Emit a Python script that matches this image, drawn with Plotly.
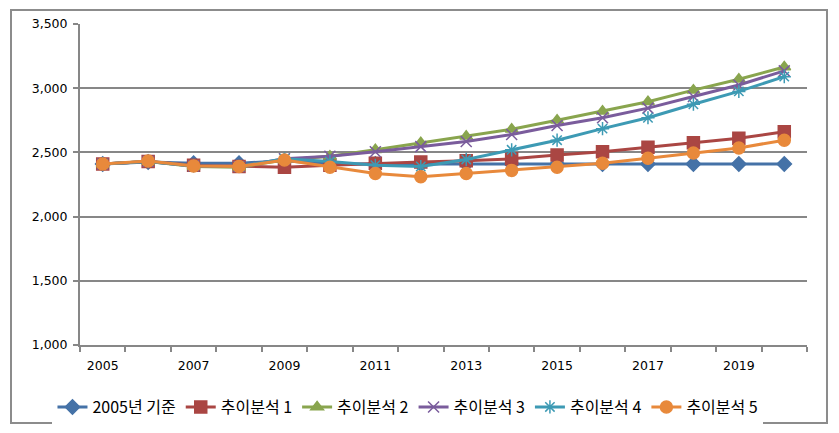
import plotly.graph_objects as go

years = list(range(2005, 2021))
series_names = ["2005년 기준", "추이분석 1", "추이분석 2", "추이분석 3", "추이분석 4", "추이분석 5"]
base_2005 = [2410, 2425, 2415, 2415, 2435, 2410, 2410, 2410, 2410, 2410, 2410, 2410, 2410, 2410, 2410, 2410]
trend_1 = [2410, 2430, 2400, 2390, 2385, 2400, 2415, 2425, 2435, 2450, 2480, 2505, 2540, 2575, 2610, 2660]
trend_2 = [2410, 2430, 2390, 2385, 2440, 2470, 2520, 2575, 2625, 2680, 2750, 2820, 2895, 2985, 3070, 3165]
trend_3 = [2410, 2430, 2395, 2390, 2450, 2470, 2505, 2545, 2585, 2640, 2710, 2770, 2845, 2935, 3025, 3135]
trend_4 = [2410, 2430, 2395, 2390, 2450, 2430, 2400, 2390, 2445, 2520, 2595, 2685, 2770, 2875, 2975, 3090]
trend_5 = [2410, 2433, 2395, 2390, 2440, 2385, 2335, 2310, 2335, 2360, 2385, 2415, 2455, 2495, 2535, 2595]
y_ticks = [1000, 1500, 2000, 2500, 3000, 3500]
x_label_years = [2005, 2007, 2009, 2011, 2013, 2015, 2017, 2019]

all_series = [base_2005, trend_1, trend_2, trend_3, trend_4, trend_5]
colors = ["#4572A7", "#AA4643", "#89A54E", "#7A5C9C", "#3D9AB4", "#E8893B"]
symbols = ["diamond", "square", "triangle-up", "x-thin-open", "asterisk-open", "circle"]
sizes = [11, 12, 11, 11, 11, 12]

fig = go.Figure()
for name, vals, c, s, sz in zip(series_names, all_series, colors, symbols, sizes):
    fig.add_trace(go.Scatter(
        x=years, y=vals, name=name, mode="lines+markers",
        line=dict(color=c, width=3),
        marker=dict(symbol=s, size=sz, color=c, line=dict(color=c, width=1.5)),
    ))

grid_c = "#878787"
fig.update_layout(
    width=823, height=417,
    margin=dict(l=72, r=24, t=16, b=80, autoexpand=False),
    paper_bgcolor="white", plot_bgcolor="white",
    font=dict(family="DejaVu Sans", size=12.5, color="black"),
    showlegend=True,
    legend=dict(orientation="h", xref="container", yref="container",
                x=0.486, xanchor="center", y=0.043, yanchor="middle",
                font=dict(family="Noto Sans CJK KR", size=16, color="black"),
                itemwidth=30, tracegroupgap=0),
    xaxis=dict(range=[2004.5, 2020.5], tickmode="array", tickvals=x_label_years,
               ticktext=[str(v) for v in x_label_years], ticks="", showgrid=False,
               showline=True, linecolor=grid_c, linewidth=2, zeroline=False,
               automargin=False, ticklabelstandoff=8,
               tickfont=dict(family="DejaVu Sans", size=12.5),
               minor=dict(tickmode="array", tickvals=[y - 0.5 for y in years] + [2020.5],
                          ticks="outside", ticklen=5, tickwidth=2, tickcolor=grid_c, showgrid=False)),
    yaxis=dict(range=[1000, 3500], tickmode="array", tickvals=y_ticks, tickformat=",",
               showgrid=True, gridcolor=grid_c, gridwidth=1.5,
               showline=True, linecolor=grid_c, linewidth=2, zeroline=False,
               automargin=False,
               ticks="outside", ticklen=5, tickwidth=2, tickcolor=grid_c,
               ticklabelstandoff=3,
               tickfont=dict(family="DejaVu Sans", size=12.5)),
    shapes=[dict(type="rect", xref="paper", yref="paper",
                 x0=-0.0949, x1=1.0275, y0=-0.243, y1=1.0436,
                 line=dict(color="#8c8c8c", width=2), fillcolor="rgba(0,0,0,0)", layer="below")],
)

fig.write_html("out.html")
